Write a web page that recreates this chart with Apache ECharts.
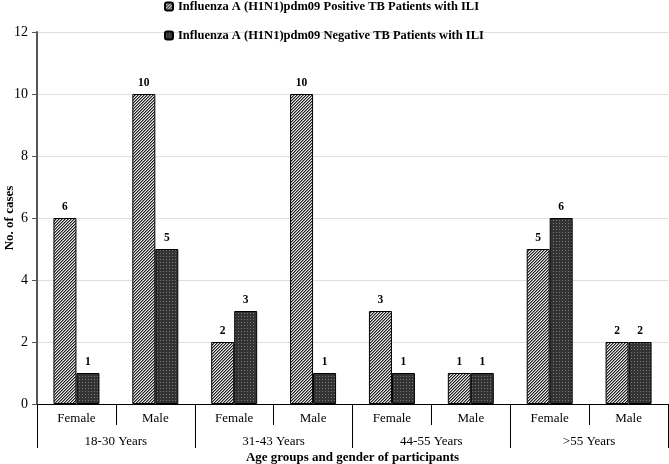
<!DOCTYPE html>
<html>
<head>
<meta charset="utf-8">
<title>H1N1 TB ILI</title>
<script src="https://cdn.jsdelivr.net/npm/echarts@6/dist/echarts.min.js"></script>
<style>
    html, body { margin: 0; padding: 0; background: #fff; }
    #main { width: 669px; height: 464px; }
</style>
</head>
<body>
<div id="main"></div>
<script>
// 数据
var genders = ['Female', 'Male', 'Female', 'Male', 'Female', 'Male', 'Female', 'Male'];
var ageGroups = ['18-30 Years', '31-43 Years', '44-55 Years', '>55 Years'];
var positiveCases = [6, 10, 2, 10, 3, 1, 5, 2];
var negativeCases = [1, 5, 3, 1, 1, 1, 6, 2];
var seriesNames = [
    'Influenza A (H1N1)pdm09 Positive TB Patients with ILI',
    'Influenza A (H1N1)pdm09 Negative TB Patients with ILI'
];

var fontFamily = '"Liberation Serif", "Times New Roman", serif';

// 斜线填充
function stripePattern() {
    var c = document.createElement('canvas');
    c.width = 3;
    c.height = 3;
    var ctx = c.getContext('2d');
    for (var x = 0; x < 3; x++) {
        for (var y = 0; y < 3; y++) {
            ctx.fillStyle = ((x + y) % 3 === 0) ? '#e8e8e8' : ((x + y) % 3 === 1 ? '#1e1e1e' : '#8a8a8a');
            ctx.fillRect(x, y, 1, 1);
        }
    }
    return c;
}

// 点状填充
function dotPattern() {
    var c = document.createElement('canvas');
    c.width = 3;
    c.height = 3;
    var ctx = c.getContext('2d');
    ctx.fillStyle = '#333';
    ctx.fillRect(0, 0, 3, 3);
    ctx.fillStyle = '#777';
    ctx.fillRect(1, 1, 1, 1);
    return c;
}

var chart = echarts.init(document.getElementById('main'));

var labelStyle = {
    show: true,
    position: 'top',
    distance: 5,
    color: '#000',
    fontFamily: fontFamily,
    fontWeight: 'bold',
    fontSize: 11.5
};

var option = {
    backgroundColor: '#fff',
    animation: false,
    textStyle: { fontFamily: fontFamily },
    legend: {
        orient: 'vertical',
        left: 159,
        top: -5,
        itemWidth: 8,
        itemHeight: 8,
        itemGap: 16,
        textStyle: {
            fontFamily: fontFamily,
            fontWeight: 'bold',
            fontSize: 12.5,
            color: '#000'
        },
        data: seriesNames
    },
    grid: {
        left: 37,
        right: 1,
        top: 32,
        bottom: 60,
        outerBoundsMode: 'none',
        containLabel: false
    },
    xAxis: [{
        type: 'category',
        data: genders,
        position: 'bottom',
        axisLine: { lineStyle: { color: '#000', width: 1 } },
        axisTick: { show: true, length: 21, lineStyle: { color: '#000' } },
        axisLabel: {
            color: '#000',
            fontFamily: fontFamily,
            fontSize: 13,
            margin: 8
        },
        splitLine: { show: false }
    }, {
        type: 'category',
        data: ageGroups,
        position: 'bottom',
        axisLine: { show: false },
        axisTick: { show: true, length: 44, lineStyle: { color: '#000' } },
        axisLabel: {
            color: '#000',
            fontFamily: fontFamily,
            fontSize: 13,
            margin: 31
        },
        name: 'Age groups and gender of participants',
        nameLocation: 'middle',
        nameGap: 47,
        nameMoveOverlap: false,
        nameTextStyle: {
            color: '#000',
            fontFamily: fontFamily,
            fontWeight: 'bold',
            fontSize: 13
        }
    }],
    yAxis: {
        type: 'value',
        min: 0,
        max: 12,
        interval: 2,
        name: 'No. of cases',
        nameLocation: 'middle',
        nameGap: 21,
        nameMoveOverlap: false,
        nameTextStyle: {
            color: '#000',
            fontFamily: fontFamily,
            fontWeight: 'bold',
            fontSize: 13
        },
        axisLine: { show: true, lineStyle: { color: '#555', width: 2 } },
        axisTick: { show: true, length: 5, lineStyle: { color: '#555' } },
        axisLabel: {
            color: '#000',
            fontFamily: fontFamily,
            fontSize: 14,
            margin: 9
        },
        splitLine: { lineStyle: { color: '#dedede', width: 1 } }
    },
    series: [{
        name: seriesNames[0],
        type: 'bar',
        xAxisIndex: 0,
        barWidth: 23,
        barGap: '0%',
        itemStyle: {
            color: { image: stripePattern(), repeat: 'repeat' },
            borderColor: '#000',
            borderWidth: 1
        },
        label: labelStyle,
        data: positiveCases
    }, {
        name: seriesNames[1],
        type: 'bar',
        xAxisIndex: 0,
        barWidth: 23,
        barGap: '0%',
        itemStyle: {
            color: { image: dotPattern(), repeat: 'repeat' },
            borderColor: '#000',
            borderWidth: 1
        },
        label: labelStyle,
        data: negativeCases
    }]
};

chart.setOption(option);
window.addEventListener('resize', chart.resize);
</script>
</body>
</html>
